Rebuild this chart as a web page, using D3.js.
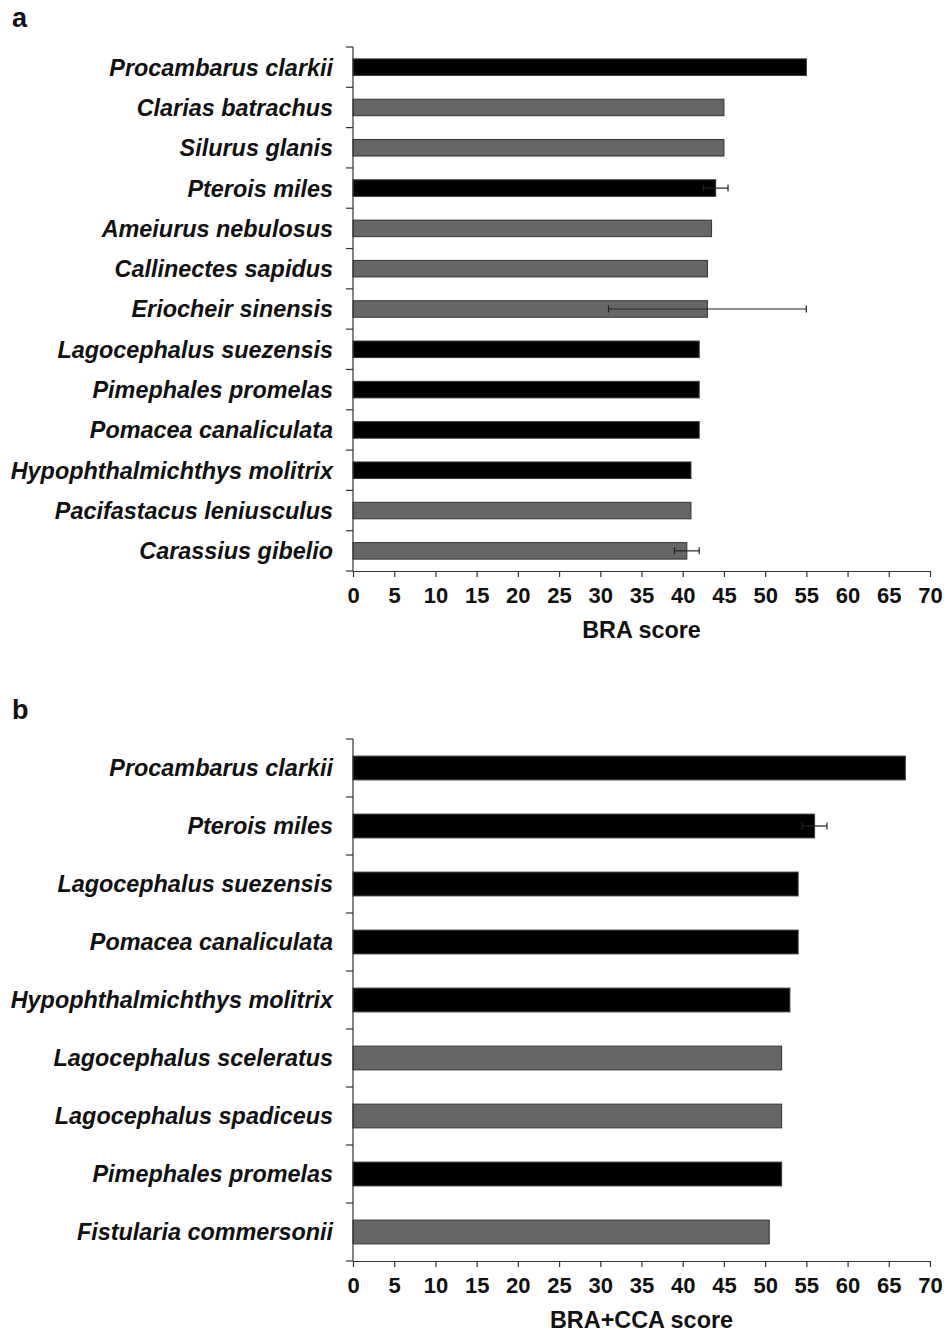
<!DOCTYPE html>
<html><head><meta charset="utf-8">
<script src="https://cdn.jsdelivr.net/npm/d3@7"></script>
<style>body{margin:0;background:#fff}svg{display:block}</style>
</head><body>
<script>
// Panel a data
const speciesA = ["Procambarus clarkii","Clarias batrachus","Silurus glanis","Pterois miles","Ameiurus nebulosus","Callinectes sapidus","Eriocheir sinensis","Lagocephalus suezensis","Pimephales promelas","Pomacea canaliculata","Hypophthalmichthys molitrix","Pacifastacus leniusculus","Carassius gibelio"];
const scoreA = [55,45,45,44,43.5,43,43,42,42,42,41,41,40.5];
const errA   = [0,0,0,1.5,0,0,12,0,0,0,0,0,1.5];
const groupA = ["black","grey","grey","black","grey","grey","grey","black","black","black","black","grey","grey"];
// Panel b data
const speciesB = ["Procambarus clarkii","Pterois miles","Lagocephalus suezensis","Pomacea canaliculata","Hypophthalmichthys molitrix","Lagocephalus sceleratus","Lagocephalus spadiceus","Pimephales promelas","Fistularia commersonii"];
const scoreB = [67,56,54,54,53,52,52,52,50.5];
const errB   = [0,1.5,0,0,0,0,0,0,0];
const groupB = ["black","black","black","black","black","grey","grey","black","grey"];
const xTicks = [0,5,10,15,20,25,30,35,40,45,50,55,60,65,70];

const W = 947, H = 1334;
const svg = d3.select("body").append("svg").attr("width", W).attr("height", H);
const font = "'Liberation Sans', Arial, Helvetica, sans-serif";
const fill = {black:"#000000", grey:"#666666"};

function panel(species, scores, errs, groups, top, bottom, letter, letterY, title) {
  const x = d3.scaleLinear().domain([0,70]).range([353,930]);
  const y = d3.scaleBand().domain(species).range([top,bottom]).paddingInner(0.59).paddingOuter(0.295);
  const g = svg.append("g");
  const data = species.map((s,i)=>({s, v:scores[i], e:errs[i], c:groups[i]}));

  g.selectAll("rect").data(data).join("rect")
    .attr("x", x(0)).attr("y", d=>y(d.s))
    .attr("width", d=>x(d.v)-x(0)).attr("height", y.bandwidth())
    .attr("fill", d=>fill[d.c]).attr("stroke", "#333").attr("stroke-width", 1);

  // error bars
  const eb = g.selectAll("g.err").data(data.filter(d=>d.e>0)).join("g").attr("class","err");
  eb.append("line").attr("x1", d=>x(d.v-d.e)).attr("x2", d=>x(d.v+d.e))
    .attr("y1", d=>y(d.s)+y.bandwidth()/2).attr("y2", d=>y(d.s)+y.bandwidth()/2)
    .attr("stroke","#222").attr("stroke-width",1.2);
  [-1,1].forEach(sg=>{
    eb.append("line").attr("x1", d=>x(d.v+sg*d.e)).attr("x2", d=>x(d.v+sg*d.e))
      .attr("y1", d=>y(d.s)+y.bandwidth()/2-3.5).attr("y2", d=>y(d.s)+y.bandwidth()/2+3.5)
      .attr("stroke","#222").attr("stroke-width",1.2);
  });

  // y axis line + ticks at band boundaries
  const bounds = d3.range(species.length+1).map(i=>top + i*(bottom-top)/species.length);
  g.append("line").attr("x1",x(0)).attr("x2",x(0)).attr("y1",top).attr("y2",bottom)
    .attr("stroke","#333").attr("stroke-width",1.2);
  g.selectAll("line.yt").data(bounds).join("line").attr("class","yt")
    .attr("x1",x(0)-7).attr("x2",x(0)).attr("y1",d=>d).attr("y2",d=>d)
    .attr("stroke","#333").attr("stroke-width",1.2);

  // category labels
  g.selectAll("text.cat").data(data).join("text").attr("class","cat")
    .attr("x", x(0)-20).attr("y", d=>y(d.s)+y.bandwidth()/2)
    .attr("dy","0.36em").attr("text-anchor","end")
    .style("font-family",font).style("font-size","23.4px").style("font-weight","bold").style("font-style","italic")
    .attr("fill","#111").text(d=>d.s);

  // x axis
  const xa = g.append("g").attr("transform",`translate(0,${bottom})`)
    .call(d3.axisBottom(x).tickValues(xTicks).tickSize(6).tickPadding(10).tickSizeOuter(0));
  xa.select(".domain").attr("stroke","#333").attr("stroke-width",1.2);
  xa.selectAll(".tick line").attr("stroke","#333").attr("stroke-width",1.2);
  xa.selectAll(".tick text").style("font-family",font).style("font-size","22px").style("font-weight","bold").attr("fill","#111");

  g.append("text").attr("x",(x(0)+x(70))/2).attr("y",bottom+67).attr("text-anchor","middle")
    .style("font-family",font).style("font-size","23.4px").style("font-weight","bold").attr("fill","#111").text(title);

  svg.append("text").attr("x",12).attr("y",letterY)
    .style("font-family",font).style("font-size","27px").style("font-weight","bold").attr("fill","#111").text(letter);
}

panel(speciesA, scoreA, errA, groupA, 47, 571, "a", 27, "BRA score");
panel(speciesB, scoreB, errB, groupB, 739, 1261, "b", 719, "BRA+CCA score");
</script>
</body></html>
